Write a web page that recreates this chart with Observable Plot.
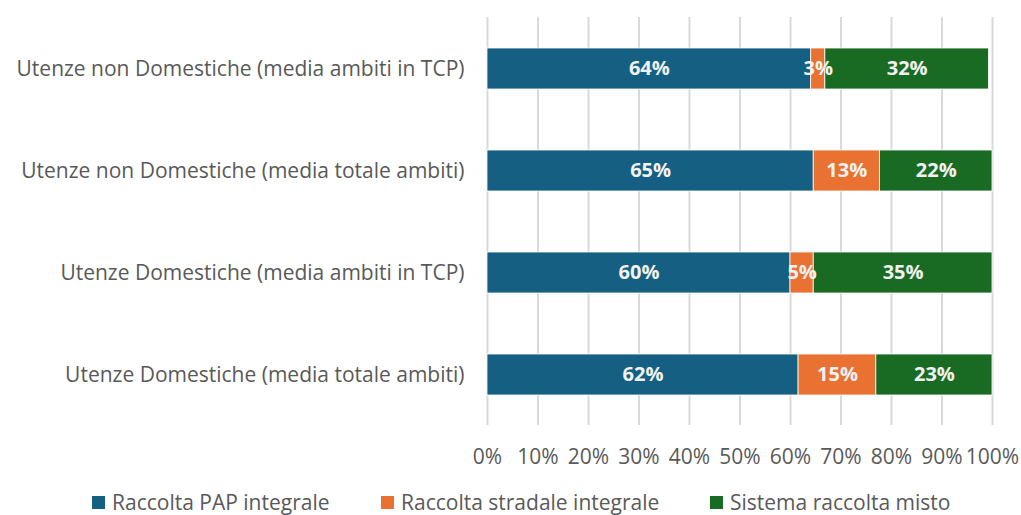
<!DOCTYPE html>
<html>
<head>
<meta charset="utf-8">
<script src="https://cdn.jsdelivr.net/npm/d3@7"></script>
<script src="https://cdn.jsdelivr.net/npm/@observablehq/plot@0.6"></script>
<style>
  body { margin: 0; background: #fff; font-family: "Open Sans", sans-serif; }
  #chart { width: 1021px; position: relative; }
  .legend { position: relative; height: 28px; margin-top: 3px; font-size: 21px; line-height: 28px; color: #595959; }
  .legend .item { position: absolute; top: 0; display: flex; align-items: center; white-space: nowrap; }
  .legend .sw { width: 13px; height: 13px; margin-right: 7px; display: inline-block; }
</style>
</head>
<body>
<div id="chart"></div>
<script>
const categories = [
  "Utenze non Domestiche (media ambiti in TCP)",
  "Utenze non Domestiche (media totale ambiti)",
  "Utenze Domestiche (media ambiti in TCP)",
  "Utenze Domestiche (media totale ambiti)"
];
const series = ["Raccolta PAP integrale", "Raccolta stradale integrale", "Sistema raccolta misto"];
const colors = ["#156082", "#E97132", "#196B24"];
const pap      = [64.1, 64.6, 60.0, 61.6];
const stradale = [2.8, 13.1, 4.6, 15.4];
const misto    = [32.4, 22.3, 35.4, 23.0];
const xTicks = [0, 10, 20, 30, 40, 50, 60, 70, 80, 90, 100];

const seriesValues = [pap, stradale, misto];
const data = [];
categories.forEach((c, i) => {
  series.forEach((s, j) => {
    data.push({category: c, series: s, value: seriesValues[j][i]});
  });
});

const plot = Plot.plot({
  width: 1021,
  height: 485,
  marginLeft: 487,
  marginRight: 29,
  marginTop: 17,
  marginBottom: 60,
  style: { fontFamily: "Open Sans, sans-serif", fontSize: "21px", color: "#595959" },
  x: { domain: [0, 100], ticks: xTicks, tickFormat: d => d + "%" },
  y: { domain: categories, paddingInner: 0.6, paddingOuter: 0.3 },
  color: { domain: series, range: colors },
  marks: [
    Plot.gridX(xTicks, { stroke: "#d9d9d9", strokeOpacity: 1, strokeWidth: 2 }),
    Plot.axisX({ ticks: xTicks, tickSize: 0, tickPadding: 24, tickFormat: d => d + "%", fill: "#595959", fontSize: 21, label: null }),
    Plot.axisY({ tickSize: 0, tickPadding: 23, fill: "#595959", fontSize: 21, label: null }),
    Plot.barX(data, Plot.stackX({ x: "value", y: "category", fill: "series", order: series, stroke: "#ffffff", strokeWidth: 0.8 })),
    Plot.textX(data, Plot.stackX({ x: "value", y: "category", z: "series", order: series,
      text: d => Math.round(d.value) + "%", fill: "#f2f2f2", fontWeight: "bold", fontSize: 20 }))
  ]
});
document.getElementById("chart").appendChild(plot);

const legend = document.createElement("div");
legend.className = "legend";
const lefts = [92, 381, 710];
series.forEach((s, j) => {
  const item = document.createElement("div");
  item.className = "item";
  item.style.left = lefts[j] + "px";
  const sw = document.createElement("span");
  sw.className = "sw";
  sw.style.background = colors[j];
  const t = document.createElement("span");
  t.textContent = s;
  item.appendChild(sw);
  item.appendChild(t);
  legend.appendChild(item);
});
document.getElementById("chart").appendChild(legend);
</script>
</body>
</html>
